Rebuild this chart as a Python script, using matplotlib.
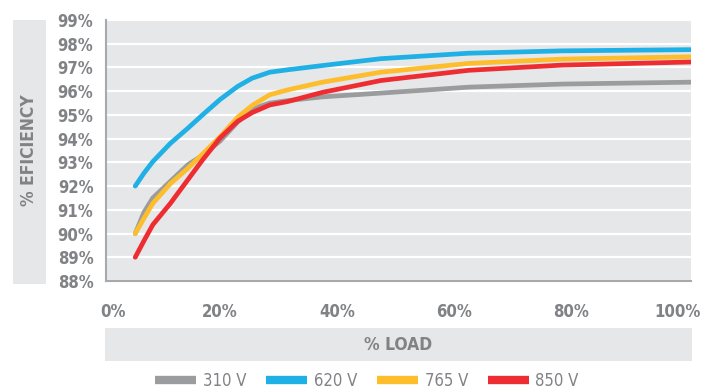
import matplotlib
matplotlib.use("Agg")
import matplotlib.pyplot as plt
import matplotlib.transforms as mtransforms
from matplotlib.patches import Rectangle
from matplotlib.lines import Line2D

# data
load = [5, 6.5, 8, 11, 14, 16.5, 19.5, 22.5, 25, 28, 31, 37, 47, 62, 78, 100]
v310 = [90.0, 90.9, 91.5, 92.2, 92.9, 93.3, 93.9, 94.7, 95.25, 95.5, 95.6, 95.76, 95.92, 96.17, 96.3, 96.38]
v620 = [92.0, 92.55, 93.03, 93.8, 94.44, 95.0, 95.65, 96.2, 96.55, 96.8, 96.9, 97.08, 97.37, 97.6, 97.7, 97.75]
v765 = [90.0, 90.65, 91.27, 92.1, 92.75, 93.35, 94.08, 94.9, 95.4, 95.85, 96.05, 96.38, 96.8, 97.17, 97.35, 97.45]
v850 = [89.0, 89.7, 90.37, 91.27, 92.27, 93.1, 94.03, 94.73, 95.1, 95.42, 95.56, 95.95, 96.45, 96.88, 97.1, 97.23]
series_names = ["310 V", "620 V", "765 V", "850 V"]
series_colors = ["#9a9c9d", "#1fb0e6", "#fdbd2c", "#ee2d32"]
yticks = list(range(88, 100))
xticks = [0, 20, 40, 60, 80, 100]

txt_col = "#808285"
bg = "#e6e7e8"
fam = ["Liberation Sans Narrow", "DejaVu Sans"]
plt.rcParams['font.family'] = fam

W, H = 713, 391
fig = plt.figure(figsize=(W / 100, H / 100), dpi=100)
ax = fig.add_axes([106 / W, 1 - 281 / H, 585 / W, 261 / H])
ax.set_facecolor(bg)

for ys, c in zip([v310, v620, v765, v850], series_colors):
    ax.plot(load, ys, color=c, lw=3.4, solid_capstyle='round', solid_joinstyle='round', zorder=3)

ax.set_xlim(0, 100)
ax.set_ylim(88, 99)
ax.set_yticks(yticks)
ax.set_yticklabels(["%d%%" % t for t in yticks])
ax.set_xticks(xticks)
ax.set_xticklabels(["%d%%" % t for t in xticks])
ax.grid(axis='y', color='white', lw=1.6, zorder=1)
ax.tick_params(length=0, colors=txt_col)
ax.tick_params(axis='y', pad=9)
ax.tick_params(axis='x', pad=16)
for lab in ax.get_xticklabels() + ax.get_yticklabels():
    lab.set_fontsize(12)
    lab.set_fontweight('bold')
    lab.set_fontstretch('condensed')
    lab.set_color(txt_col)

# nudge the x labels like the reference
xl = ax.get_xticklabels()
shifts = [7, -3, -3, -3, -3, -13]
for lab, dx in zip(xl, shifts):
    lab.set_transform(lab.get_transform() + mtransforms.ScaledTranslation(dx / 100, 0, fig.dpi_scale_trans))

for s in ['top', 'right']:
    ax.spines[s].set_visible(False)
for s in ['left', 'bottom']:
    ax.spines[s].set_color('#a7a9ac')
    ax.spines[s].set_linewidth(1.5)

# y label box
fig.patches.append(Rectangle((13 / W, 1 - 284 / H), 33 / W, 264 / H, transform=fig.transFigure,
                             facecolor=bg, edgecolor='none'))
fig.text(29.5 / W, 1 - 150 / H, "% EFICIENCY", rotation=90, ha='center', va='center',
         fontsize=12.5, fontweight='bold', fontstretch='condensed', color=txt_col)

# x label box
fig.patches.append(Rectangle((105 / W, 1 - 361 / H), 587 / W, 33 / H, transform=fig.transFigure,
                             facecolor=bg, edgecolor='none'))
fig.text(398 / W, 1 - 345 / H, "% LOAD", ha='center', va='center',
         fontsize=12.5, fontweight='bold', fontstretch='condensed', color=txt_col)

handles = [Line2D([0], [0], color=c, lw=6, solid_capstyle='butt') for c in series_colors]
leg = fig.legend(handles, series_names, loc='center', bbox_to_anchor=(367 / W, 1 - 381 / H),
                 ncol=4, frameon=False, handlelength=2.45, handletextpad=0.4, columnspacing=1.2,
                 borderaxespad=0, borderpad=0,
                 prop={'size': 12, 'stretch': 'condensed', 'family': fam})
for t in leg.get_texts():
    t.set_color(txt_col)

fig.savefig("out.png", dpi=100)
